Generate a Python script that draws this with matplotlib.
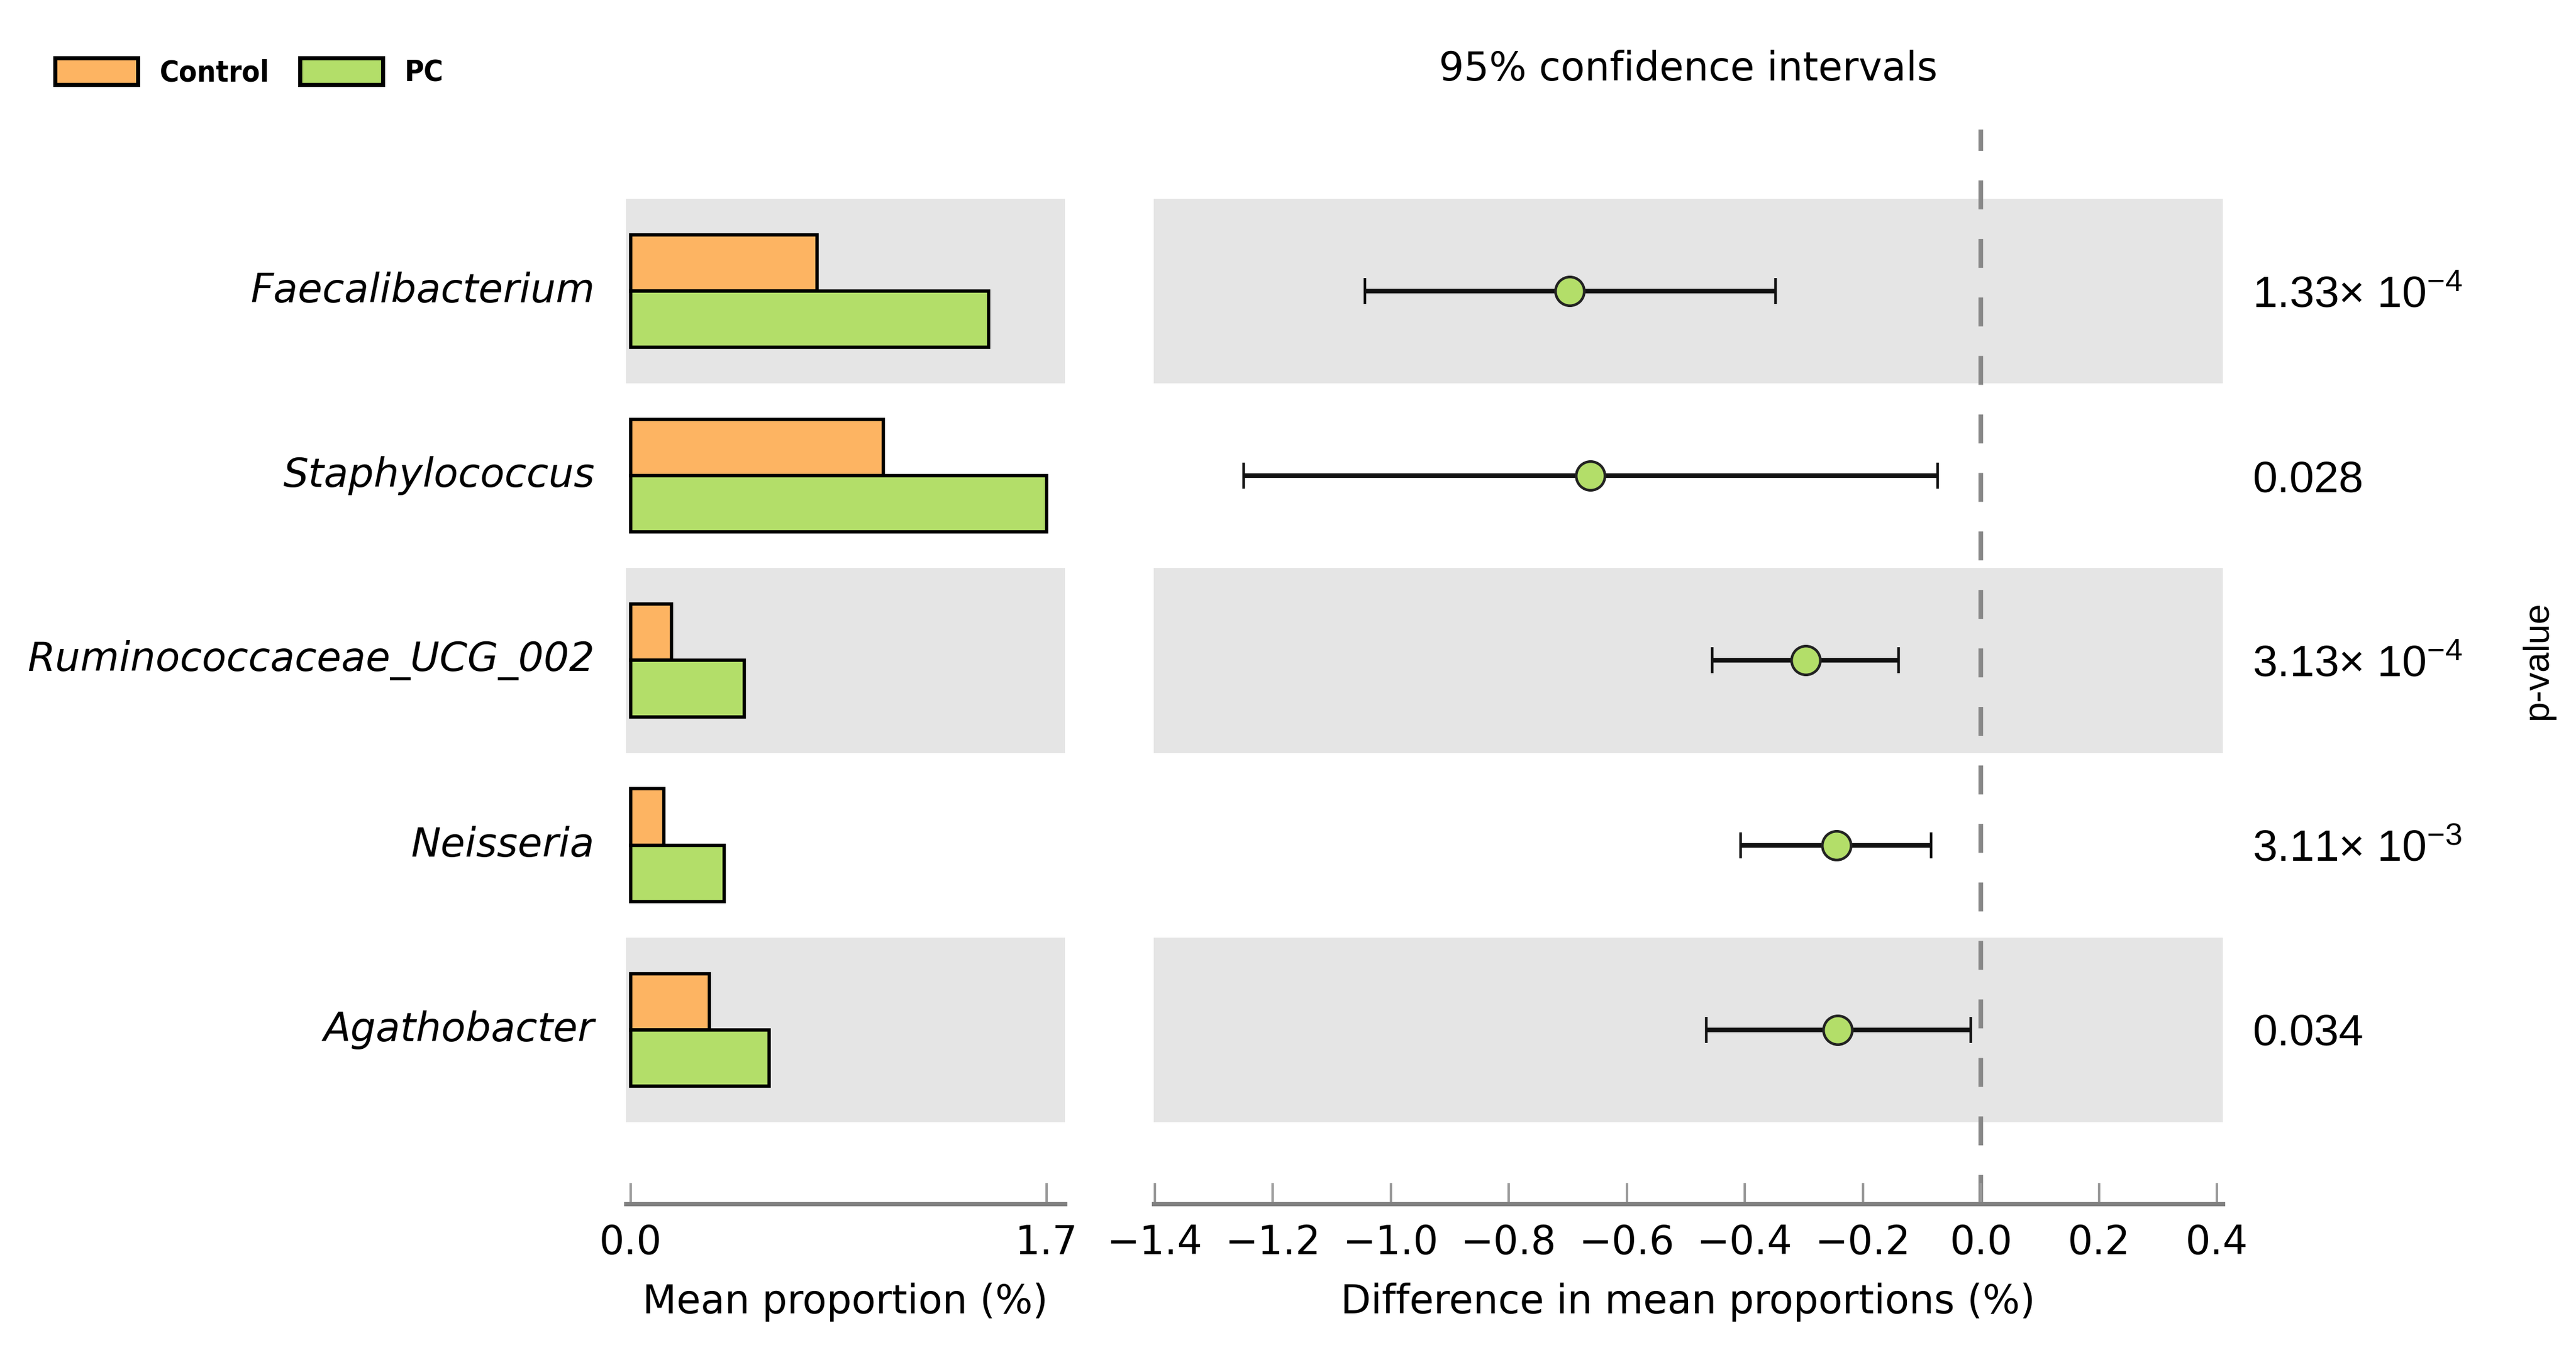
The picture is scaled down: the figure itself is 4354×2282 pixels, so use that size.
import numpy as np
import matplotlib
matplotlib.use("Agg")
import matplotlib.pyplot as plt
import matplotlib.transforms as mtransforms
from matplotlib.patches import Patch

# ---------------- data ----------------
genera = ["Faecalibacterium", "Staphylococcus", "Ruminococcaceae_UCG_002",
          "Neisseria", "Agathobacter"]
control_mean = [0.762, 1.033, 0.166, 0.136, 0.321]
pc_mean = [1.463, 1.700, 0.464, 0.382, 0.565]
diff_mean = [-0.697, -0.662, -0.297, -0.245, -0.243]
ci_lower = [-1.044, -1.250, -0.455, -0.407, -0.465]
ci_upper = [-0.348, -0.073, -0.140, -0.084, -0.017]
p_labels = ["1.33\u00d7 10$^{-4}$", "0.028", "3.13\u00d7 10$^{-4}$",
            "3.11\u00d7 10$^{-3}$", "0.034"]
diff_ticks = [-1.4, -1.2, -1.0, -0.8, -0.6, -0.4, -0.2, 0.0, 0.2, 0.4]
group_names = ["Control", "PC"]

# ---------------- style ----------------
plt.rcParams["font.family"] = ["DejaVu Sans"]
plt.rcParams["mathtext.default"] = "regular"
plt.rcParams["lines.scale_dashes"] = False

ORANGE = "#FDB462"
GREEN = "#B3DE69"
BAND = "#E5E5E5"
SPINE = "#808080"

W, H, DPI = 4354, 2282, 200
fig = plt.figure(figsize=(W / DPI, H / DPI), dpi=DPI)

ax1 = fig.add_axes([1058 / W, 1 - 2035 / H, 742 / W, 1816 / H])
ax2 = fig.add_axes([1950 / W, 1 - 2035 / H, 1807 / W, 1816 / H])

y = np.arange(len(genera))
for ax in (ax1, ax2):
    for i in y[::2]:
        ax.axhspan(i - 0.5, i + 0.5, color=BAND, lw=0, zorder=0)
    ax.set_ylim(4.942, -0.8745)
    ax.set_yticks([])
    for s in ("left", "right", "top"):
        ax.spines[s].set_visible(False)
    ax.spines["bottom"].set_color(SPINE)
    ax.spines["bottom"].set_linewidth(2.6)
    ax.tick_params(axis="x", direction="in", length=12.5, width=1.5,
                   color="#9a9a9a", pad=12, labelsize=24)
    ax.set_facecolor("none")

# ---- left: mean proportions ----
bh = 0.305
ax1.barh(y - bh / 2, control_mean, height=bh, color=ORANGE,
         edgecolor="black", linewidth=2.0, zorder=2)
ax1.barh(y + bh / 2, pc_mean, height=bh, color=GREEN,
         edgecolor="black", linewidth=2.0, zorder=2)
ax1.set_xlim(-0.0193, 1.775)
max_prop = max(max(control_mean), max(pc_mean))
ax1.set_xticks([0.0, max_prop])
ax1.set_xticklabels(["0.0", f"{max_prop:.1f}"])
ax1.set_xlabel("Mean proportion (%)", fontsize=24, labelpad=12)

# genus labels
tr = mtransforms.blended_transform_factory(ax1.transAxes, ax1.transData)
for i, g in enumerate(genera):
    ax1.text(-0.0714, i, g, transform=tr, ha="right", va="center",
             fontsize=24.3, style="italic")

# ---- right: differences with CI ----
diff = np.array(diff_mean)
lo = np.array(ci_lower)
hi = np.array(ci_upper)
ax2.axvline(0, color="#888888", lw=2.8, dashes=(17.6, 18.0), zorder=1.5)
ax2.errorbar(diff, y, xerr=[diff - lo, hi - diff], fmt="o",
             color="#111111", ecolor="#111111", elinewidth=2.8,
             capsize=8, capthick=1.6, markersize=17.5,
             markerfacecolor=GREEN, markeredgecolor="#222222",
             markeredgewidth=1.6, zorder=3)
ax2.set_xlim(-1.402, 0.41)
ax2.set_xticks(diff_ticks)
ax2.set_xticklabels([f"{v:.1f}".replace("-", "\u2212") if abs(v) > 1e-9 else "0.0"
                     for v in diff_ticks])
ax2.set_xlabel("Difference in mean proportions (%)", fontsize=24, labelpad=12)

# p-values
PFS = 27
trp = mtransforms.blended_transform_factory(fig.transFigure, ax2.transData)
off = mtransforms.ScaledTranslation(0, -0.358 * PFS / 72, fig.dpi_scale_trans)
for i, p in enumerate(p_labels):
    ax2.text(3807 / W, i, p, transform=trp + off, ha="left", va="baseline",
             fontsize=PFS, family="Liberation Sans", clip_on=False)
ax2.text(4290 / W, 2, "p-value", transform=trp, rotation=90, ha="center",
         va="center", fontsize=22, family="Liberation Sans", clip_on=False)

# title
fig.text(2853 / W, 1 - 117 / H, "95% confidence intervals", ha="center",
         va="center", fontsize=24)

# legend
handles = [Patch(facecolor=ORANGE, edgecolor="black", linewidth=2.5),
           Patch(facecolor=GREEN, edgecolor="black", linewidth=2.5)]
fig.legend(handles, group_names, loc="upper left",
           bbox_to_anchor=(93 / W, 1 - 98 / H), ncol=2, frameon=False,
           borderpad=0, borderaxespad=0, handlelength=2.8, handleheight=1.0,
           handletextpad=0.74, columnspacing=1.02,
           prop=dict(weight="bold", size=18, stretch="condensed"))

fig.savefig("out.png", dpi=DPI)
